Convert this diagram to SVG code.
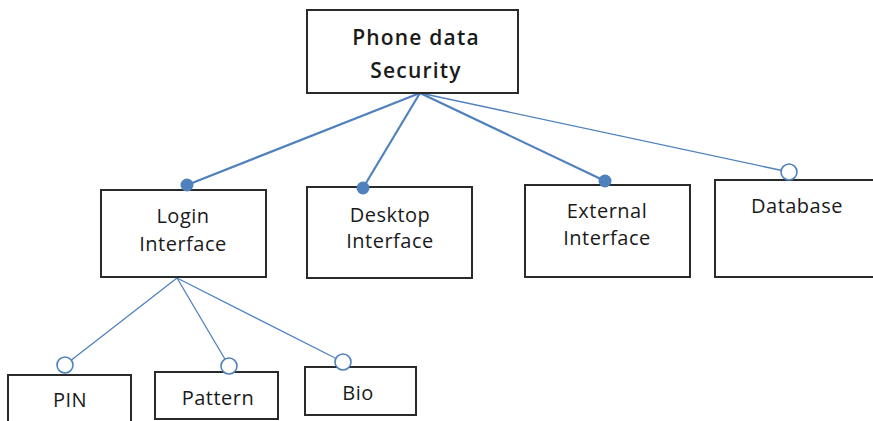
<svg xmlns="http://www.w3.org/2000/svg" width="873" height="421" viewBox="0 0 873 421">
<style>
.box{fill:#fff;stroke:#2a2a2a;stroke-width:2}
.t{font-family:"Open Sans","Liberation Sans",sans-serif;font-size:20px;letter-spacing:0.5px;fill:#1a1a1a;text-anchor:middle}
.tb{font-weight:600;font-size:21px;letter-spacing:1.2px}
.thick{stroke:#4f81bd;stroke-width:2.2;fill:none}
.thin{stroke:#4f81bd;stroke-width:1.3;fill:none}
.dot{fill:#4f81bd}
.ring{fill:#fff;stroke:#4f81bd;stroke-width:1.6}
</style>
<rect width="873" height="421" fill="#fff"/>
<g id="connectors">
<line class="thick" x1="420" y1="93" x2="187" y2="185"/>
<line class="thick" x1="420" y1="93" x2="363" y2="188"/>
<line class="thick" x1="420" y1="93" x2="605" y2="181"/>
<line class="thin" x1="420" y1="93" x2="789" y2="172"/>
<line class="thin" x1="177" y1="278" x2="65" y2="365"/>
<line class="thin" x1="177" y1="278" x2="229" y2="366"/>
<line class="thin" x1="177" y1="278" x2="343" y2="362"/>
</g>
<g id="phone-data-security">
<rect class="box" x="307" y="10" width="211" height="83"/>
<text class="t tb" x="416" y="45">Phone data</text>
<text class="t tb" x="416" y="78">Security</text>
</g>
<g id="login-interface">
<rect class="box" x="101" y="190" width="165" height="87"/>
<text class="t" x="183" y="223">Login</text>
<text class="t" x="183" y="251">Interface</text>
<circle class="dot" cx="187" cy="185" r="6.5"/>
</g>
<g id="desktop-interface">
<rect class="box" x="307" y="187" width="165" height="91"/>
<text class="t" x="390" y="222">Desktop</text>
<text class="t" x="390" y="248">Interface</text>
<circle class="dot" cx="363" cy="188" r="6.5"/>
</g>
<g id="external-interface">
<rect class="box" x="525" y="185" width="165" height="92"/>
<text class="t" x="607" y="218">External</text>
<text class="t" x="607" y="245">Interface</text>
<circle class="dot" cx="605" cy="181" r="6.5"/>
</g>
<g id="database">
<rect class="box" x="715" y="180" width="170" height="97"/>
<text class="t" x="797" y="213">Database</text>
<circle class="ring" cx="789" cy="172" r="8"/>
</g>
<g id="pin">
<rect class="box" x="8" y="375" width="123" height="60"/>
<text class="t" x="70" y="407">PIN</text>
<circle class="ring" cx="65" cy="365" r="8"/>
</g>
<g id="pattern">
<rect class="box" x="155" y="372" width="123" height="47"/>
<text class="t" x="218" y="405">Pattern</text>
<circle class="ring" cx="229" cy="366" r="8"/>
</g>
<g id="bio">
<rect class="box" x="305" y="367" width="111" height="48"/>
<text class="t" x="358" y="400">Bio</text>
<circle class="ring" cx="343" cy="362" r="8"/>
</g>
</svg>
